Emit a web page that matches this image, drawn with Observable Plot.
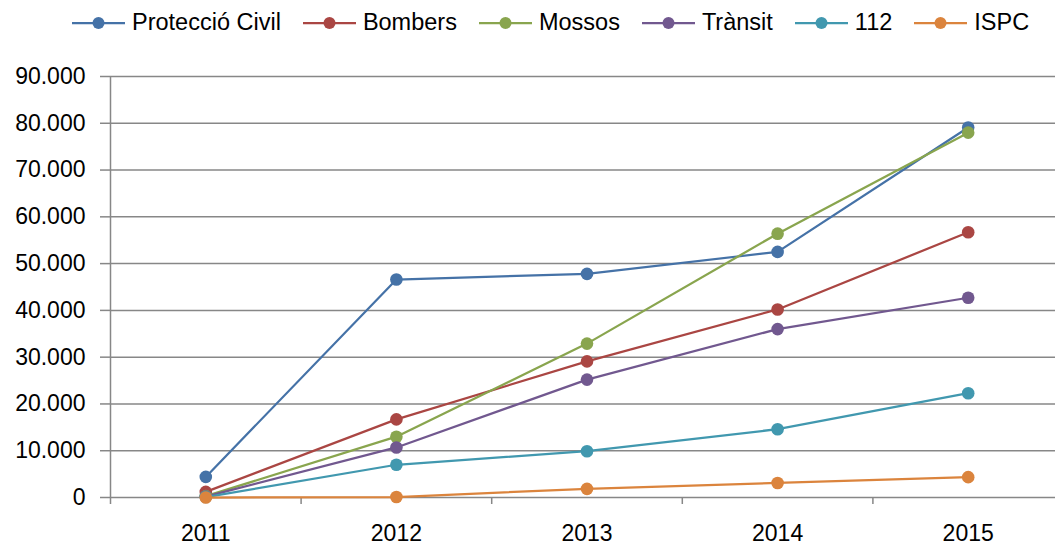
<!DOCTYPE html>
<html>
<head>
<meta charset="utf-8">
<script src="https://cdn.jsdelivr.net/npm/d3@7"></script>
<script src="https://cdn.jsdelivr.net/npm/@observablehq/plot@0.6"></script>
<style>
  html, body { margin: 0; padding: 0; background: #fff; }
  body { width: 1055px; height: 547px; overflow: hidden; font-family: "Liberation Sans", Arial, sans-serif; }
  #legend { height: 44px; display: flex; align-items: center; padding-left: 72px; padding-top: 1px; box-sizing: border-box; font-size: 23.5px; color: #000; }
  .item { display: flex; align-items: center; margin-right: 22px; }
  .item svg { margin-right: 7px; }
</style>
</head>
<body>
<div id="legend"></div>
<div id="chart"></div>
<script>
const years = [2011, 2012, 2013, 2014, 2015];
const seriesNames = ["Protecció Civil", "Bombers", "Mossos", "Trànsit", "112", "ISPC"];
const proteccioCivil = [4400, 46600, 47800, 52500, 79100];
const bombers = [1200, 16700, 29100, 40200, 56700];
const mossos = [300, 13000, 32900, 56400, 78000];
const transit = [200, 10700, 25200, 36000, 42700];
const emergencies112 = [100, 7000, 9900, 14600, 22300];
const ispc = [0, 100, 1850, 3100, 4350];
const yTicks = [0, 10000, 20000, 30000, 40000, 50000, 60000, 70000, 80000, 90000];
const colors = ["#4572A7", "#AA4643", "#89A54E", "#71588F", "#4198AF", "#DB843D"];

const seriesValues = [proteccioCivil, bombers, mossos, transit, emergencies112, ispc];
const series = seriesNames.map((name, i) => ({
  name, color: colors[i],
  rows: years.map((year, j) => ({year, value: seriesValues[i][j], name}))
}));

const locale = d3.formatLocale({decimal: ",", thousands: ".", grouping: [3], currency: ["", ""]});
const fmt = locale.format(",");
const gray = "#878787";

// Legend
const legend = d3.select("#legend");
series.forEach(s => {
  const item = legend.append("div").attr("class", "item");
  const sv = item.append("svg").attr("width", 53).attr("height", 14);
  sv.append("line").attr("x1", 0).attr("x2", 53).attr("y1", 7).attr("y2", 7)
    .attr("stroke", s.color).attr("stroke-width", 2.25);
  sv.append("circle").attr("cx", 26.5).attr("cy", 7).attr("r", 6).attr("fill", s.color);
  item.append("span").text(s.name);
});

const marks = [
  Plot.gridY({ticks: yTicks, stroke: gray, strokeOpacity: 1, strokeWidth: 1.5}),
  Plot.ruleX([years[0] - 0.5], {stroke: gray, strokeWidth: 1.5}),
  Plot.axisY({ticks: yTicks, tickFormat: fmt, tickSize: 10, tickPadding: 15, fontSize: 23, stroke: gray, strokeWidth: 1.5, fill: "black", label: null}),
  Plot.axisX({ticks: years.map(y => y - 0.5), tickSize: 7, tickFormat: () => "", stroke: gray, strokeWidth: 1.5, label: null}),
  Plot.axisX({ticks: years, tickSize: 0, tickPadding: 27, tickFormat: d => String(d), fontSize: 23, fill: "black", label: null})
];
series.forEach(s => {
  marks.push(Plot.line(s.rows, {x: "year", y: "value", stroke: s.color, strokeWidth: 2.25}));
  marks.push(Plot.dot(s.rows, {x: "year", y: "value", fill: s.color, r: 6.3}));
});

const chart = Plot.plot({
  width: 1055,
  height: 503,
  marginTop: 32,
  marginBottom: 50,
  marginLeft: 110,
  marginRight: 0,
  style: {fontFamily: "Liberation Sans, Arial, sans-serif", fontSize: "23px", background: "#fff", color: "#000"},
  x: {type: "linear", domain: [years[0] - 0.5, years[years.length - 1] + 0.5], range: [110, 1063]},
  y: {domain: [0, 90000]},
  marks
});
document.getElementById("chart").appendChild(chart);
</script>
</body>
</html>
